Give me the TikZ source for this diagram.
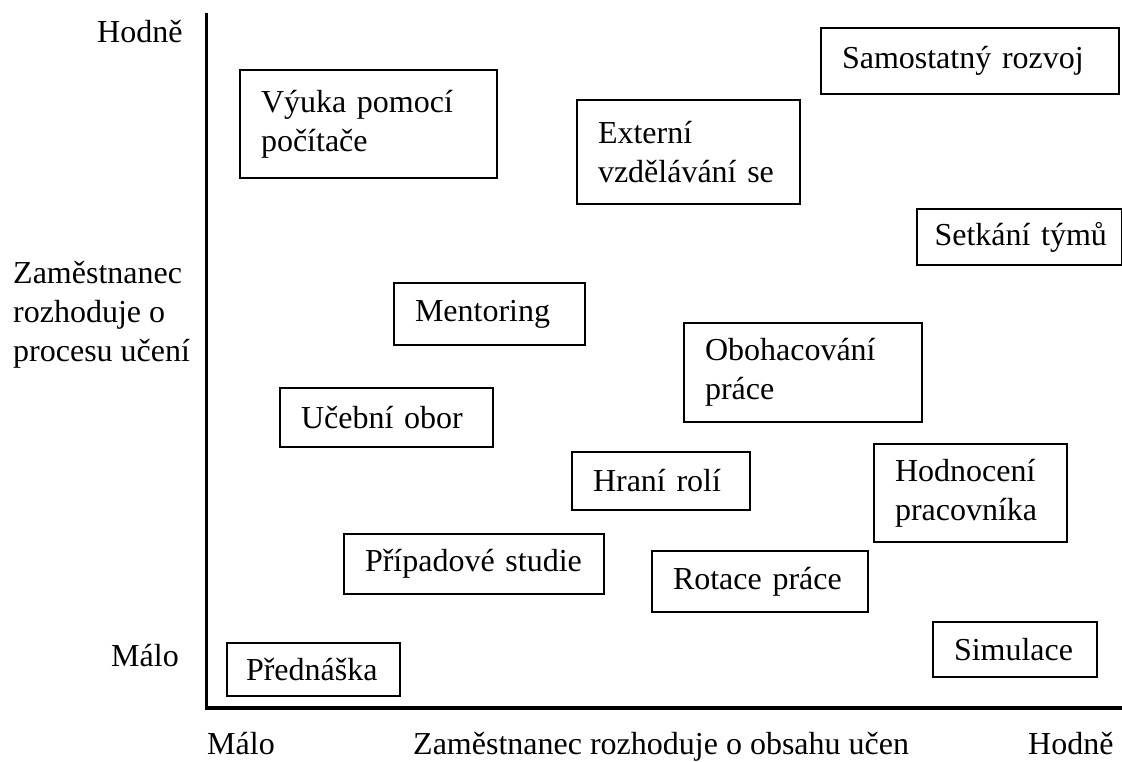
\documentclass[tikz,border=0pt]{standalone}
\usepackage{fontspec}
\setmainfont{Liberation Serif}
\begin{document}
\begin{tikzpicture}[x=1pt,y=-1pt,
  every node/.style={font=\fontsize{32}{39}\selectfont, inner sep=0pt},
  box/.style={draw, line width=2pt, anchor=north west, align=left, inner xsep=21pt, inner ysep=0pt},
  lbl/.style={anchor=base west}]
\useasboundingbox (0,0) rectangle (1122,762);
% axes
\coordinate (axtop) at (206.5,13);
\coordinate (origin) at (206.5,708);
\coordinate (axend) at (1122,708);
\draw[line width=3.5pt] (axtop) -- (origin) -- (axend);
% axis labels
\node[lbl] (yhi) at (97,43) {Hodně};
\node[lbl] (ylo) at (111,666) {Málo};
\node[anchor=west, align=left] (ytitle) at (13,315) {Zaměstnanec\\rozhoduje o\\procesu učení};
\node[lbl] (xlo) at (207,754) {Málo};
\node[lbl] (xtitle) at (413,754) {Zaměstnanec rozhoduje o obsahu učen};
\node[lbl] (xhi) at (1028,754) {Hodně};
% boxes
\node[box, text width=215pt, minimum height=108pt] (vyuka) at (239,69) {Výuka pomocí\\počítače};
\node[box, text width=181pt, minimum height=104pt] (externi) at (576,99) {Externí\\vzdělávání se};
\node[box, text width=256pt, minimum height=66pt] (samo) at (820,27) {Samostatný~rozvoj};
\node[box, text width=170pt, inner xsep=17.5pt, minimum height=56pt] (setkani) at (916,208) {Setkání~týmů};
\node[box, text width=149pt, minimum height=62pt] (mentoring) at (393,282) {Mentoring};
\node[box, text width=196pt, minimum height=99pt] (obohac) at (683,322) {Obohacování\\práce};
\node[box, text width=171pt, minimum height=59pt] (ucebni) at (279,387) {Učební~obor};
\node[box, text width=136pt, minimum height=58pt] (hrani) at (571,451) {Hraní~rolí};
\node[box, text width=151pt, minimum height=98pt] (hodnoceni) at (873,443) {Hodnocení\\pracovníka};
\node[box, text width=218pt, inner xsep=21pt, minimum height=60pt] (pripadove) at (343,533) {Případové~studie};
\node[box, text width=174pt, minimum height=61pt] (rotace) at (651,550) {Rotace~práce};
\node[box, text width=122pt, minimum height=55pt] (simulace) at (932,621) {Simulace};
\node[box, text width=135pt, inner xsep=19pt, minimum height=53pt] (prednaska) at (226,642) {Přednáška};
\end{tikzpicture}
\end{document}
